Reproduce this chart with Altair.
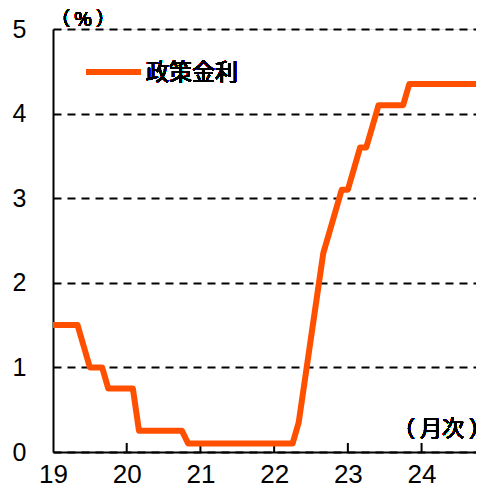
import altair as alt
import pandas as pd

# Monthly policy rate, Jan 2019 .. Nov 2024 (%)
rate_2019 = [1.5, 1.5, 1.5, 1.5, 1.5, 1.25, 1.0, 1.0, 1.0, 0.75, 0.75, 0.75]
rate_2020 = [0.75, 0.75, 0.25, 0.25, 0.25, 0.25, 0.25, 0.25, 0.25, 0.25, 0.1, 0.1]
rate_2021 = [0.1] * 12
rate_2022 = [0.1, 0.1, 0.1, 0.1, 0.35, 0.85, 1.35, 1.85, 2.35, 2.6, 2.85, 3.1]
rate_2023 = [3.1, 3.35, 3.6, 3.6, 3.85, 4.1, 4.1, 4.1, 4.1, 4.1, 4.35, 4.35]
rate_2024 = [4.35] * 11
year_labels = ["19", "20", "21", "22", "23", "24"]
y_ticks = [0, 1, 2, 3, 4, 5]
series_name = "政策金利"

values = rate_2019 + rate_2020 + rate_2021 + rate_2022 + rate_2023 + rate_2024
df = pd.DataFrame({"m": list(range(len(values))), "rate": values})
ticks_df = pd.DataFrame({"m": [12 * i for i in range(1, len(year_labels))]})

W, H = 423, 423
XR = 430
ORANGE = "#FF5000"
NUM_FONT = "Liberation Sans"
JP_FONT = "Noto Sans CJK JP"

xscale = alt.Scale(domain=[0, 70], range=[0, XR], nice=False, zero=False)
yscale = alt.Scale(domain=[0, 5], nice=False)

line = alt.Chart(df).mark_line(
    color=ORANGE, strokeWidth=6, strokeJoin="round", strokeCap="butt", clip=False
).encode(
    x=alt.X("m:Q", scale=xscale, axis=alt.Axis(
        values=[12 * i for i in range(len(year_labels))],
        labelExpr="format(19 + datum.value / 12, 'd')",
        title=None, ticks=False, grid=False, domainColor="black", domainWidth=2,
        labelFont=NUM_FONT, labelFontSize=26, labelColor="black", labelPadding=9,
        labelFlush=False)),
    y=alt.Y("rate:Q", scale=yscale, axis=alt.Axis(
        values=y_ticks, title=None, ticks=False, grid=True, gridColor="black",
        gridDash=[8, 6], gridWidth=2, domainColor="black", domainWidth=2,
        labelFont=NUM_FONT, labelFontSize=25, labelColor="black", labelPadding=27,
        labelFlush=False)),
)

inner_ticks = alt.Chart(ticks_df).mark_rule(color="black", strokeWidth=2).encode(
    x=alt.X("m:Q", scale=xscale),
    y=alt.value(H - 9), y2=alt.value(H),
)

legend_line = alt.Chart(df).mark_rule(color=ORANGE, strokeWidth=6, strokeCap="round").encode(
    x=alt.value(36), x2=alt.value(85), y=alt.value(43)
)
legend_text = alt.Chart(df).mark_text(
    text=series_name, font=JP_FONT, fontSize=23, fontWeight="normal", align="left",
    baseline="middle", color="black"
).encode(x=alt.value(93), y=alt.value(44))

pct_text = alt.Chart(df).mark_text(
    text="（ % ）", font=JP_FONT, fontSize=19, fontWeight="normal", align="center",
    baseline="middle", color="black"
).encode(x=alt.value(30), y=alt.value(-9))

unit_text = alt.Chart(df).mark_text(
    text="（ 月次 ）", font=JP_FONT, fontSize=22, fontWeight="normal", align="center",
    baseline="middle", color="black"
).encode(x=alt.value(389), y=alt.value(400))

chart = alt.layer(
    inner_ticks, line, legend_line, legend_text, pct_text, unit_text
).properties(
    width=W, height=H,
    autosize=alt.AutoSizeParams(type="none"),
    padding={"left": 45, "top": 21, "right": 0, "bottom": 36},
).configure_view(stroke=None).configure(background="white")

chart.save("out.html", embed_options={"renderer": "svg", "actions": False})
